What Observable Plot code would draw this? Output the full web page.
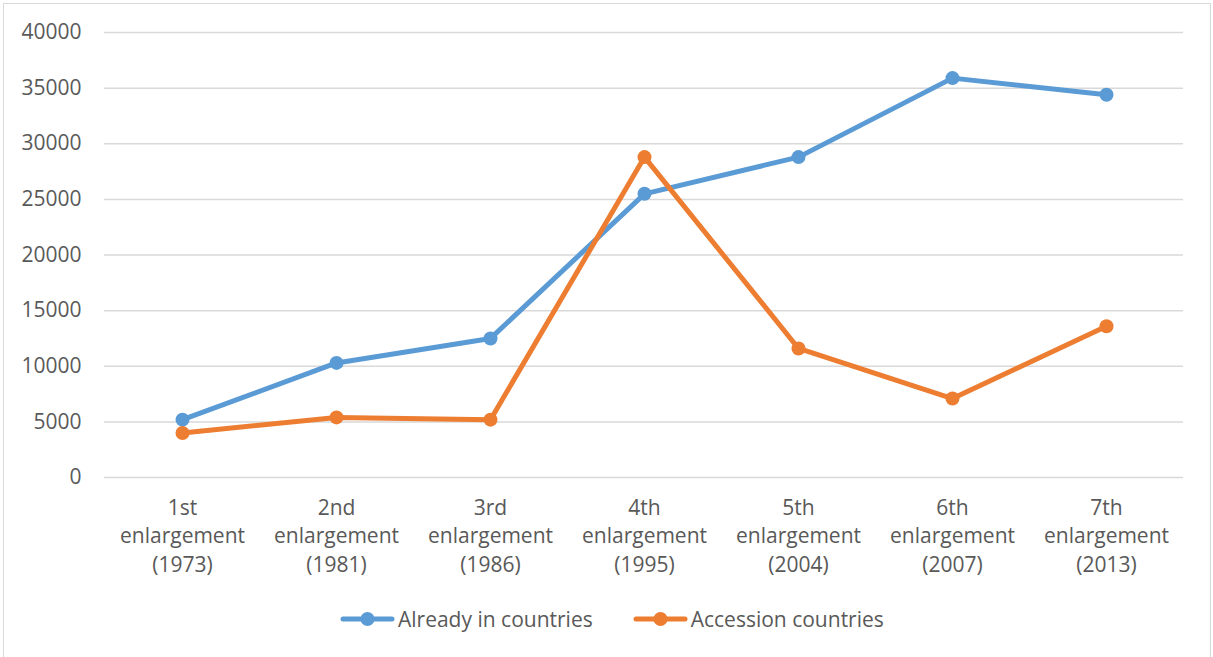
<!DOCTYPE html>
<html>
<head>
<meta charset="utf-8">
<script src="https://cdn.jsdelivr.net/npm/d3@7"></script>
<script src="https://cdn.jsdelivr.net/npm/@observablehq/plot@0.6"></script>
<style>
  body { margin: 0; background: #fff; font-family: "Open Sans", sans-serif; }
  #wrap { position: relative; width: 1213px; height: 657px; overflow: hidden; }
  #frame { position: absolute; left: 3px; top: 3px; width: 1208px; height: 700px; border: 1px solid #d9d9d9; box-sizing: border-box; }
  #chart { position: absolute; left: 0; top: 0; }
  #legend { position: absolute; left: 340px; top: 605px; height: 28px; display: flex; align-items: center; color: #595959; font-size: 21px; }
  .item { display: flex; align-items: center; }
  .item span { margin-left: 3px; }
  .item + .item { margin-left: 40px; }
</style>
</head>
<body>
<div id="wrap">
  <div id="frame"></div>
  <div id="chart"></div>
  <div id="legend"></div>
</div>
<script>
const stages = ["1st", "2nd", "3rd", "4th", "5th", "6th", "7th"];
const years = [1973, 1981, 1986, 1995, 2004, 2007, 2013];
const alreadyIn = [5200, 10300, 12500, 25500, 28800, 35900, 34400];
const accession = [4000, 5400, 5200, 28800, 11600, 7100, 13600];
const seriesNames = ["Already in countries", "Accession countries"];
const seriesColors = ["#5B9BD5", "#ED7D31"];
const yTicks = [0, 5000, 10000, 15000, 20000, 25000, 30000, 35000, 40000];

const labels = stages.map((s, i) => `${s}\nenlargement\n(${years[i]})`);
const data = [];
labels.forEach((l, i) => data.push({label: l, series: seriesNames[0], value: alreadyIn[i]}));
labels.forEach((l, i) => data.push({label: l, series: seriesNames[1], value: accession[i]}));

const chart = Plot.plot({
  width: 1213,
  height: 600,
  marginLeft: 104,
  marginRight: 30,
  marginTop: 32,
  marginBottom: 123,
  style: {fontFamily: "Open Sans", fontSize: "21px", color: "#595959", background: "transparent", overflow: "visible"},
  x: {type: "point", domain: labels, padding: 0.5},
  y: {domain: [0, 40000]},
  color: {domain: seriesNames, range: seriesColors},
  marks: [
    Plot.gridY(yTicks, {stroke: "#d9d9d9", strokeOpacity: 1, strokeWidth: 1.5}),
    Plot.axisY(yTicks, {tickSize: 0, tickPadding: 23, tickFormat: d => String(d), fontSize: 21, fill: "#595959", label: null}),
    Plot.axisX({tickSize: 0, tickPadding: 17, fontSize: 21, lineHeight: 1.36, fill: "#595959", label: null}),
    Plot.line(data, {x: "label", y: "value", z: "series", stroke: "series", strokeWidth: 5, strokeLinejoin: "round", strokeLinecap: "round"}),
    Plot.dot(data, {x: "label", y: "value", fill: "series", r: 7, stroke: null})
  ]
});
document.getElementById("chart").appendChild(chart);

const legend = document.getElementById("legend");
seriesNames.forEach((name, i) => {
  const item = document.createElement("div");
  item.className = "item";
  item.innerHTML = `<svg width="55" height="16"><line x1="3" y1="8" x2="52" y2="8" stroke="${seriesColors[i]}" stroke-width="5" stroke-linecap="round"/><circle cx="27.5" cy="8" r="7" fill="${seriesColors[i]}"/></svg><span>${name}</span>`;
  legend.appendChild(item);
});
</script>
</body>
</html>
